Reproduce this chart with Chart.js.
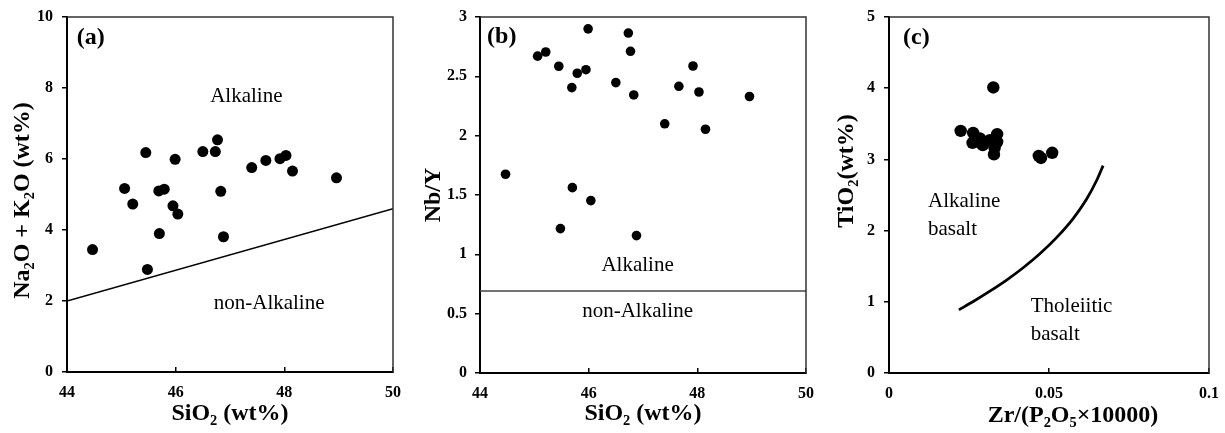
<!DOCTYPE html>
<html><head><meta charset="utf-8">
<script src="https://cdn.jsdelivr.net/npm/chart.js@4.4.1/dist/chart.umd.min.js"></script>
<style>
html,body{margin:0;padding:0;background:#fff;}
#wrap{position:relative;width:1225px;height:433px;overflow:hidden;background:#fff;}
canvas{position:absolute;top:0;}
</style></head><body>
<div id="wrap">
<canvas id="ca" width="410" height="433" style="left:0px"></canvas>
<canvas id="cb" width="420" height="433" style="left:400px"></canvas>
<canvas id="cc" width="405" height="433" style="left:820px"></canvas>
</div>
<script>
// ---- data ----
const sio2   = [44.47,45.06,45.21,45.45,45.48,45.69,45.70,45.79,45.95,45.99,46.04,46.50,46.73,46.77,46.83,46.88,47.40,47.66,47.92,48.03,48.15,48.96];
const alkali = [3.45,5.17,4.73,6.18,2.89,5.10,3.90,5.15,4.68,5.99,4.45,6.21,6.21,6.54,5.09,3.81,5.76,5.96,6.01,6.10,5.66,5.47];
const nbY    = [1.675,2.67,2.705,2.585,1.217,2.405,1.562,2.526,2.556,2.90,1.453,2.447,2.865,2.711,2.343,1.158,2.10,2.416,2.587,2.368,2.054,2.33];
const zrP    = [0.0224,0.0263,0.0261,0.0284,0.0293,0.0315,0.0338,0.0338,0.0330,0.0328,0.0326,0.0468,0.0475,0.0510];
const tio2   = [3.40,3.373,3.233,3.294,3.20,3.27,3.355,3.247,3.16,3.07,4.01,3.05,3.02,3.093];
const lineAx = [44,50],  lineAy = [2.0,4.6];
const lineBx = [44,50],  lineBy = [0.69,0.69];
const curveCx = [0.02185,0.02633,0.03153,0.03674,0.04193,0.04714,0.05235,0.05754,0.06172,0.06484,0.06691];
const curveCy = [0.887,1.004,1.149,1.305,1.478,1.674,1.901,2.169,2.441,2.700,2.913];
const ticksA = {xStep:2, yStep:2}, ticksB = {xStep:2, yStep:0.5}, ticksC = {xStep:0.05, yStep:1};

const pts = (xs, ys) => xs.map((v,i)=>({x:v, y:ys[i]}));
const fmt = v => String(+Number(v).toFixed(4));

const SERIF = '"Liberation Serif","Times New Roman",serif';
const tickFont = {family:SERIF, size:16, weight:'bold'};
const titleFont = {family:SERIF, size:24, weight:'bold'};
const labFont = '21px ' + SERIF;
const panFont = 'bold 24px ' + SERIF;

const boxPlugin = {
  id:'box',
  afterDraw(chart){
    const {ctx, chartArea:{left,right,top,bottom}} = chart;
    ctx.save();
    ctx.strokeStyle = '#333'; ctx.lineWidth = 1.5;
    ctx.beginPath(); ctx.moveTo(left, top); ctx.lineTo(right, top); ctx.lineTo(right, bottom); ctx.stroke();
    ctx.restore();
  }
};
const textPlugin = {
  id:'txt',
  afterDatasetsDraw(chart, args, opts){
    const {ctx, scales:{x,y}} = chart;
    ctx.save();
    (opts.items||[]).forEach(it=>{
      ctx.font = it.font; ctx.fillStyle = '#000';
      ctx.textAlign = it.align || 'center'; ctx.textBaseline = 'middle';
      ctx.fillText(it.text, x.getPixelForValue(it.x), y.getPixelForValue(it.y));
    });
    ctx.restore();
  }
};

function makeChart(id, c){
  return new Chart(document.getElementById(id), {
    type:'scatter',
    data:{datasets:c.datasets},
    options:{
      responsive:false, animation:false, devicePixelRatio:1,
      layout:{padding:{top:c.padTop, right:c.padRight, left:0, bottom:0}},
      plugins:{legend:{display:false}, tooltip:{enabled:false}, txt:{items:c.labels}},
      scales:{
        x:{type:'linear', min:c.xmin, max:c.xmax,
           ticks:{stepSize:c.xStep, font:tickFont, color:'#000', padding:c.xPad, maxRotation:0, autoSkip:false, callback:fmt},
           grid:{display:true, drawOnChartArea:false, drawTicks:true, tickLength:-5, color:'#000', lineWidth:1.5},
           border:{display:true, color:'#000', width:2},
           title:{display:true, text:c.xTitle, font:titleFont, color:'#000', padding:{top:0, bottom:c.xTitlePad}},
           afterFit(s){ s.height = c.xH; s.paddingLeft = 0; s.paddingRight = 0; }},
        y:{type:'linear', min:c.ymin, max:c.ymax,
           ticks:{stepSize:c.yStep, font:tickFont, color:'#000', padding:c.yPad, autoSkip:false, callback:fmt},
           grid:{display:true, drawOnChartArea:false, drawTicks:true, tickLength:5, color:'#000', lineWidth:1.5},
           border:{display:true, color:'#000', width:2},
           title:{display:true, text:c.yTitle, font:titleFont, color:'#000', padding:{top:c.yTitlePad, bottom:0}},
           afterFit(s){ s.width = c.yW; s.paddingTop = 0; s.paddingBottom = 0; }}
      }
    },
    plugins:[boxPlugin, textPlugin]
  });
}

makeChart('ca', {
  datasets:[
    {data:pts(lineAx,lineAy), showLine:true, borderColor:'#000', borderWidth:1.5, pointRadius:0},
    {data:pts(sio2,alkali), pointRadius:5.5, pointBackgroundColor:'#000', pointBorderWidth:0}
  ],
  xmin:44, xmax:50, xStep:ticksA.xStep, ymin:0, ymax:10, yStep:ticksA.yStep,
  padTop:17, padRight:17, xH:61, yW:67, xPad:16, yPad:9, xTitlePad:5, yTitlePad:8,
  xTitle:'SiO₂ (wt%)', yTitle:'Na₂O + K₂O (wt%)  ',
  labels:[
    {text:'(a)', x:44.18, y:9.41, align:'left', font:panFont},
    {text:'Alkaline', x:47.30, y:7.75, font:labFont},
    {text:'non-Alkaline', x:47.72, y:1.94, font:labFont}
  ]
});

makeChart('cb', {
  datasets:[
    {data:pts(lineBx,lineBy), showLine:true, borderColor:'#444', borderWidth:1.5, pointRadius:0},
    {data:pts(sio2,nbY), pointRadius:4.8, pointBackgroundColor:'#000', pointBorderWidth:0}
  ],
  xmin:44, xmax:50, xStep:ticksB.xStep, ymin:0, ymax:3, yStep:ticksB.yStep,
  padTop:17, padRight:14, xH:60, yW:80, xPad:16, yPad:8, xTitlePad:5, yTitlePad:19,
  xTitle:'SiO₂ (wt%)', yTitle:'Nb/Y',
  labels:[
    {text:'(b)', x:44.13, y:2.83, align:'left', font:panFont},
    {text:'Alkaline', x:46.90, y:0.908, font:labFont},
    {text:'non-Alkaline', x:46.90, y:0.52, font:labFont}
  ]
});

makeChart('cc', {
  datasets:[
    {data:pts(curveCx,curveCy), showLine:true, borderColor:'#000', borderWidth:2.8, pointRadius:0, tension:0.4, cubicInterpolationMode:'monotone'},
    {data:pts(zrP,tio2), pointRadius:6.2, pointBackgroundColor:'#000', pointBorderWidth:0}
  ],
  xmin:0, xmax:0.1, xStep:ticksC.xStep, ymin:0, ymax:5, yStep:ticksC.yStep,
  padTop:17, padRight:16, xH:60, yW:69, xPad:16, yPad:9, xTitlePad:3, yTitlePad:12,
  xTitle:'\u2003\u2003Zr/(P₂O₅×10000)', yTitle:'\u2003\u2003TiO₂(wt%)',
  labels:[
    {text:'(c)', x:0.0044, y:4.705, align:'left', font:panFont},
    {text:'Alkaline', x:0.0122, y:2.406, align:'left', font:labFont},
    {text:'basalt', x:0.0122, y:2.009, align:'left', font:labFont},
    {text:'Tholeiitic', x:0.0443, y:0.934, align:'left', font:labFont},
    {text:'basalt', x:0.0443, y:0.537, align:'left', font:labFont}
  ]
});
</script>
</body></html>
